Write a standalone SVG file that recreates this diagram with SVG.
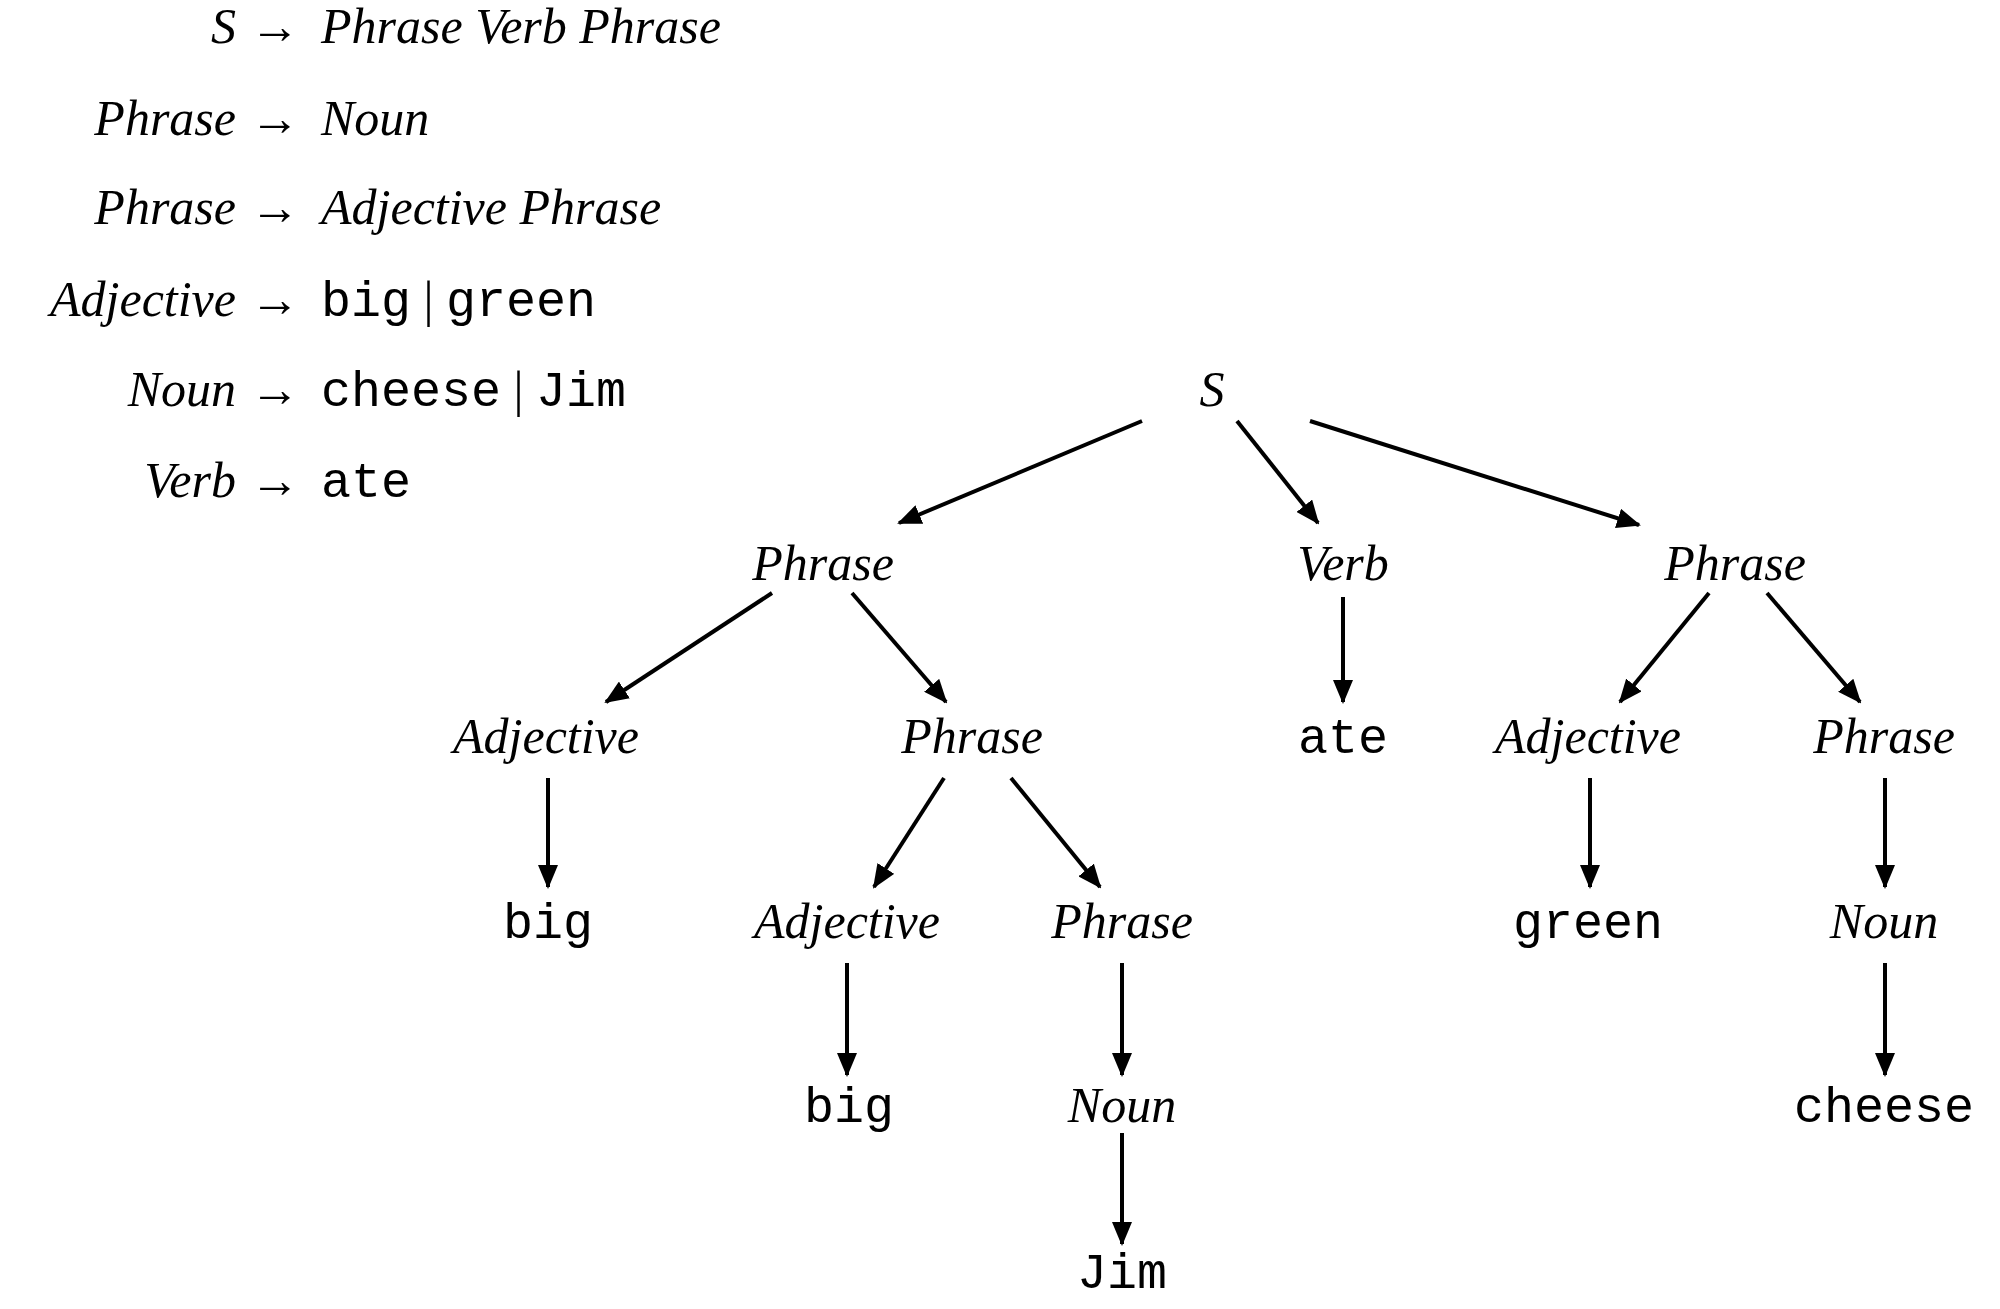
<svg xmlns="http://www.w3.org/2000/svg" width="2000" height="1309" viewBox="0 0 2000 1309">
<style>
.i{font-family:"Liberation Serif",serif;font-style:italic;font-size:50px;fill:#000}
.m{font-family:"Liberation Mono",monospace;font-size:50px;fill:#000}
.r{font-family:"Liberation Serif",serif;font-size:50px;fill:#000}
.n{text-anchor:middle}
.e line{stroke:#000;stroke-width:4;marker-end:url(#a)}
</style>
<defs><marker id="a" markerUnits="userSpaceOnUse" markerWidth="24" markerHeight="20" refX="22" refY="10" orient="auto"><path d="M0,0 L24,10 L0,20 Z" fill="#000"/></marker></defs>
<rect width="2000" height="1309" fill="#fff"/>
<g id="grammar">
<text x="236" y="43" class="i" text-anchor="end">S</text><text x="250" y="43" class="r">→</text><text x="321" y="43" class="i">Phrase Verb Phrase</text>
<text x="236" y="135" class="i" text-anchor="end">Phrase</text><text x="250" y="135" class="r">→</text><text x="321" y="135" class="i">Noun</text>
<text x="236" y="224" class="i" text-anchor="end">Phrase</text><text x="250" y="224" class="r">→</text><text x="321" y="224" class="i">Adjective Phrase</text>
<text x="236" y="316" class="i" text-anchor="end">Adjective</text><text x="250" y="316" class="r">→</text><text x="321" y="316"><tspan class="m">big</tspan><tspan class="r"> | </tspan><tspan class="m">green</tspan></text>
<text x="236" y="406" class="i" text-anchor="end">Noun</text><text x="250" y="406" class="r">→</text><text x="321" y="406"><tspan class="m">cheese</tspan><tspan class="r"> | </tspan><tspan class="m">Jim</tspan></text>
<text x="236" y="497" class="i" text-anchor="end">Verb</text><text x="250" y="497" class="r">→</text><text x="321" y="497" class="m">ate</text>
</g>
<g id="n_S"><text x="1212" y="406" class="i n">S</text></g>
<g id="n_P1"><text x="823" y="580" class="i n">Phrase</text></g>
<g id="n_V"><text x="1343" y="580" class="i n">Verb</text></g>
<g id="n_P2"><text x="1735" y="580" class="i n">Phrase</text></g>
<g id="n_A1"><text x="546" y="753" class="i n">Adjective</text></g>
<g id="n_P3"><text x="972" y="753" class="i n">Phrase</text></g>
<g id="n_ate"><text x="1343" y="753" class="m n">ate</text></g>
<g id="n_A2"><text x="1588" y="753" class="i n">Adjective</text></g>
<g id="n_P4"><text x="1884" y="753" class="i n">Phrase</text></g>
<g id="n_big1"><text x="548" y="938" class="m n">big</text></g>
<g id="n_A3"><text x="847" y="938" class="i n">Adjective</text></g>
<g id="n_P5"><text x="1122" y="938" class="i n">Phrase</text></g>
<g id="n_green"><text x="1588" y="938" class="m n">green</text></g>
<g id="n_N1"><text x="1884" y="938" class="i n">Noun</text></g>
<g id="n_big2"><text x="849" y="1122" class="m n">big</text></g>
<g id="n_N2"><text x="1122" y="1122" class="i n">Noun</text></g>
<g id="n_cheese"><text x="1884" y="1122" class="m n">cheese</text></g>
<g id="n_Jim"><text x="1122" y="1288" class="m n">Jim</text></g>
<g id="edges" class="e">
<line x1="1142" y1="421" x2="899" y2="523"/>
<line x1="1237" y1="421" x2="1318" y2="523"/>
<line x1="1310" y1="421" x2="1639" y2="525"/>
<line x1="772" y1="593" x2="606" y2="702"/>
<line x1="852" y1="593" x2="946" y2="702"/>
<line x1="1343" y1="597" x2="1343" y2="702"/>
<line x1="1709" y1="593" x2="1620" y2="702"/>
<line x1="1767" y1="593" x2="1860" y2="702"/>
<line x1="548" y1="778" x2="548" y2="887"/>
<line x1="944" y1="778" x2="874" y2="887"/>
<line x1="1011" y1="778" x2="1100" y2="887"/>
<line x1="1590" y1="778" x2="1590" y2="887"/>
<line x1="1885" y1="778" x2="1885" y2="887"/>
<line x1="847" y1="963" x2="847" y2="1075"/>
<line x1="1122" y1="963" x2="1122" y2="1075"/>
<line x1="1885" y1="963" x2="1885" y2="1075"/>
<line x1="1122" y1="1133" x2="1122" y2="1244"/>
</g>
</svg>
